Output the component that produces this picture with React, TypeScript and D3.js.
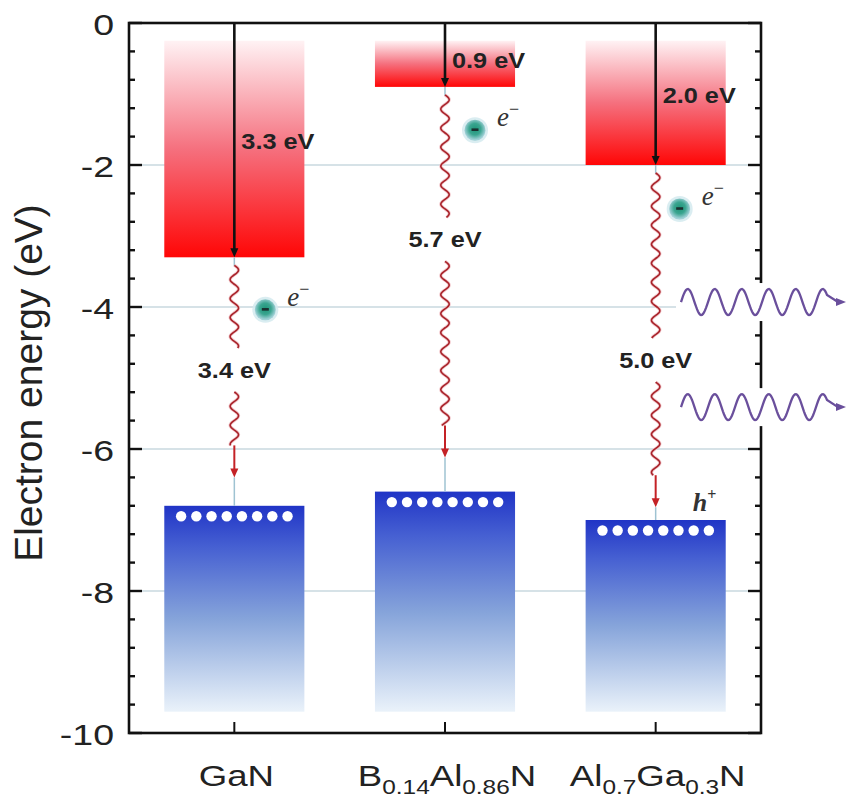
import React from "react";
import * as d3 from "d3";

// band edges (eV) for each material
const materials = ["GaN", "BAlN", "AlGaN"];
const materialLabels: [string, boolean][][] = [
  [["GaN", false]],
  [["B", false], ["0.14", true], ["Al", false], ["0.86", true], ["N", false]],
  [["Al", false], ["0.7", true], ["Ga", false], ["0.3", true], ["N", false]],
];
const cbm = [-3.3, -0.9, -2.0];
const vbm = [-6.8, -6.6, -7.0];
const cbTop = -0.25;
const vbBottom = -9.7;

const offsetLabels = ["3.3 eV", "0.9 eV", "2.0 eV"];
const offsetLabelLevels = [-1.78, -0.63, -1.12];
const gapLabels = ["3.4 eV", "5.7 eV", "5.0 eV"];
const gapLabelLevels = [-5.0, -3.16, -4.86];
const arrowTipLevels = [-6.4, -6.12, -6.82];
const electronLevels = [-4.04, -1.51, -2.62];
const electronOffsets = [31, 30, 24];
const photonLevels = [-3.93, -5.41];

const yTicks = [0, -2, -4, -6, -8, -10];
const gridLevels = [-2, -4, -6, -8];

const W = 846;
const H = 801;
const left = 129;
const right = 761;
const top = 23;
const bottom = 733;

const sans = "'Liberation Sans', Arial, Helvetica, sans-serif";
const serif = "'Liberation Serif', 'Times New Roman', serif";

function wavePath(x: number, y0: number, y1: number, amp: number, period: number) {
  const n = Math.max(2, Math.ceil(Math.abs(y1 - y0)));
  const pts = d3.range(n + 1).map((i) => {
    const yy = y0 + ((y1 - y0) * i) / n;
    return [x + amp * Math.sin((2 * Math.PI * (yy - y0)) / period), yy] as [number, number];
  });
  return d3.line()(pts) || "";
}

function photonPath(x0: number, x1: number, yc: number, amp: number, period: number) {
  const n = Math.ceil(x1 - x0);
  const pts = d3.range(n + 1).map((i) => {
    const xx = x0 + i;
    return [xx, yc - amp * Math.sin((2 * Math.PI * (xx - x0)) / period)] as [number, number];
  });
  return d3.line()(pts) || "";
}

export default function App() {
  const y = d3.scaleLinear().domain([-10, 0]).range([bottom, top]);
  const x = d3.scaleBand().domain(materials).range([left, right]).padding(0);
  const bw = x.bandwidth();
  const barW = bw * 0.665;
  const cx = (m: string) => (x(m) as number) + bw / 2;
  const minor = d3.range(0, 26).map((i) => -i * 0.4);

  return (
    <svg
      width={W}
      height={H}
      style={{ position: "absolute", left: 0, top: 0, background: "#fff" }}
    >
      <defs>
        <linearGradient id="cbGrad" x1="0" y1="0" x2="0" y2="1">
          <stop offset="0" stopColor="#fff2f4" />
          <stop offset="0.5" stopColor="#f5707e" />
          <stop offset="1" stopColor="#ff0606" />
        </linearGradient>
        <linearGradient id="vbGrad" x1="0" y1="0" x2="0" y2="1">
          <stop offset="0" stopColor="#2034c6" />
          <stop offset="0.2" stopColor="#4660d2" />
          <stop offset="0.55" stopColor="#86a4da" />
          <stop offset="1" stopColor="#eaf2fa" />
        </linearGradient>
        <radialGradient id="eGrad" cx="0.5" cy="0.45" r="0.5">
          <stop offset="0" stopColor="#1e9478" />
          <stop offset="0.55" stopColor="#3aa590" />
          <stop offset="1" stopColor="#9fd0d6" />
        </radialGradient>
      </defs>

      {/* grid lines */}
      {gridLevels.map((g) => (
        <line key={g} x1={left} x2={right} y1={y(g)} y2={y(g)} stroke="#c9d8df" strokeWidth={1.5} />
      ))}

      {/* conduction bands */}
      {materials.map((m, i) => (
        <rect
          key={"cb" + m}
          x={cx(m) - barW / 2}
          y={y(cbTop)}
          width={barW}
          height={y(cbm[i]) - y(cbTop)}
          fill="url(#cbGrad)"
        />
      ))}

      {/* valence bands */}
      {materials.map((m, i) => (
        <rect
          key={"vb" + m}
          x={cx(m) - barW / 2}
          y={y(vbm[i])}
          width={barW}
          height={y(vbBottom) - y(vbm[i])}
          fill="url(#vbGrad)"
        />
      ))}

      {/* holes */}
      {materials.map((m, i) =>
        d3.range(8).map((k) => (
          <circle
            key={m + "h" + k}
            cx={cx(m) + (k - 3.5) * 15.2}
            cy={y(vbm[i]) + 10.5}
            r={5.2}
            fill="#ffffff"
          />
        ))
      )}

      {/* thin connectors */}
      {materials.map((m, i) => (
        <g key={"con" + m} stroke="#9fc3d2" strokeWidth={1.5}>
          <line x1={cx(m)} x2={cx(m)} y1={y(cbm[i])} y2={y(cbm[i]) + 9} />
          <line x1={cx(m)} x2={cx(m)} y1={y(arrowTipLevels[i])} y2={y(vbm[i])} />
        </g>
      ))}

      {/* black arrows: vacuum level to CBM */}
      {materials.map((m, i) => {
        const tip = y(cbm[i]);
        return (
          <g key={"ba" + m}>
            <line x1={cx(m)} x2={cx(m)} y1={top} y2={tip - 6} stroke="#111" strokeWidth={2.6} />
            <path
              d={`M${cx(m) - 4},${tip - 9} L${cx(m) + 4},${tip - 9} L${cx(m)},${tip} Z`}
              fill="#111"
            />
          </g>
        );
      })}

      {/* red wavy arrows: band gap */}
      {materials.map((m, i) => {
        const lc = y(gapLabelLevels[i]) - 8;
        const tip = y(arrowTipLevels[i]);
        const start = y(cbm[i]) + 8;
        const wEnd = tip - 32;
        return (
          <g key={"ra" + m} fill="none">
            <path d={wavePath(cx(m), start, lc - 22, 4.2, 19)} stroke="#f2c8cc" strokeWidth={3.2} />
            <path d={wavePath(cx(m), lc + 22, wEnd, 4.2, 19)} stroke="#f2c8cc" strokeWidth={3.2} />
            <path d={wavePath(cx(m), start, lc - 22, 4.2, 19)} stroke="#a8232a" strokeWidth={1.6} />
            <path d={wavePath(cx(m), lc + 22, wEnd, 4.2, 19)} stroke="#a8232a" strokeWidth={1.6} />
            <line x1={cx(m)} x2={cx(m)} y1={wEnd} y2={tip - 6} stroke="#c42226" strokeWidth={2} />
            <path
              d={`M${cx(m) - 4},${tip - 9} L${cx(m) + 4},${tip - 9} L${cx(m)},${tip} Z`}
              fill="#c42226"
            />
          </g>
        );
      })}

      {/* energy labels */}
      {materials.map((m, i) => (
        <g key={"lab" + m} fontFamily={sans} fontWeight="bold" fontSize={22} fill="#222">
          <text transform={`translate(${cx(m) + 7},${y(offsetLabelLevels[i])}) scale(1.15,1)`}>
            {offsetLabels[i]}
          </text>
          <text
            textAnchor="middle"
            transform={`translate(${cx(m)},${y(gapLabelLevels[i])}) scale(1.15,1)`}
          >
            {gapLabels[i]}
          </text>
        </g>
      ))}

      {/* electrons */}
      {materials.map((m, i) => {
        const ex = cx(m) + electronOffsets[i];
        const ey = y(electronLevels[i]);
        return (
          <g key={"e" + m}>
            <circle cx={ex} cy={ey} r={13} fill="#d3eaee" opacity={0.85} />
            <circle cx={ex} cy={ey} r={10.5} fill="url(#eGrad)" />
            <line x1={ex - 3.5} x2={ex + 3.5} y1={ey - 0.5} y2={ey - 0.5} stroke="#1a3030" strokeWidth={2.6} />
            <text x={ex + 22} y={ey - 4} fontFamily={serif} fontStyle="italic" fontSize={27} fill="#333">
              e
              <tspan fontSize={18} dy={-11} fontStyle="normal">
                −
              </tspan>
            </text>
          </g>
        );
      })}

      {/* hole label */}
      <text
        x={cx("AlGaN") + 37}
        y={y(vbm[2]) - 9}
        fontFamily={serif}
        fontStyle="italic"
        fontWeight="bold"
        fontSize={26}
        fill="#333"
      >
        h
        <tspan fontSize={16} dy={-11} fontStyle="normal">
          +
        </tspan>
      </text>

      {/* frame */}
      <rect x={left} y={top} width={right - left} height={bottom - top} fill="none" stroke="#111" strokeWidth={2.6} />

      {/* y ticks, both sides */}
      {minor.map((t) => {
        const major = Math.abs(t / 2 - Math.round(t / 2)) < 1e-6;
        const len = major ? 13 : 6;
        return (
          <g key={"t" + t} stroke="#111" strokeWidth={2.4}>
            <line x1={left} x2={left + len} y1={y(t)} y2={y(t)} />
            <line x1={right - len} x2={right} y1={y(t)} y2={y(t)} />
          </g>
        );
      })}

      {/* x ticks */}
      {materials.map((m) => (
        <line key={"xt" + m} x1={cx(m)} x2={cx(m)} y1={bottom} y2={bottom - 11} stroke="#111" strokeWidth={2} />
      ))}

      {/* y tick labels */}
      {yTicks.map((t) => (
        <text
          key={"yl" + t}
          textAnchor="end"
          dominantBaseline="central"
          fontFamily={sans}
          fontSize={30}
          fill="#222"
          transform={`translate(${left - 15},${y(t) + 1}) scale(1.25,1)`}
        >
          {t}
        </text>
      ))}

      {/* y axis title */}
      <text
        textAnchor="middle"
        fontFamily={sans}
        fontSize={39}
        fill="#222"
        transform={`translate(42,${(top + bottom) / 2 + 5}) rotate(-90)`}
      >
        Electron energy (eV)
      </text>

      {/* category labels */}
      {materials.map((m, i) => (
        <text
          key={"xl" + m}
          textAnchor="middle"
          fontFamily={sans}
          fontSize={30}
          fill="#222"
          transform={`translate(${cx(m) + 2},786) scale(1.22,1)`}
        >
          {materialLabels[i].map(([s, sub], k) => (
            <tspan key={k} fontSize={sub ? 20 : 30} dy={sub ? 8 : k > 0 ? -8 : 0}>
              {s}
            </tspan>
          ))}
        </text>
      ))}

      {/* emitted photons */}
      {photonLevels.map((p) => {
        const yc = y(p);
        return (
          <g key={"ph" + p}>
            <rect x={676} y={yc - 19} width={W - 676} height={38} fill="#fff" />
            <path
              d={photonPath(681, 827, yc, 13, 27) + `L838,${yc}`}
              fill="none"
              stroke="#6a4f9c"
              strokeWidth={2.3}
            />
            <path d={`M836,${yc - 4} L846,${yc} L836,${yc + 4} Z`} fill="#6a4f9c" />
          </g>
        );
      })}
    </svg>
  );
}
